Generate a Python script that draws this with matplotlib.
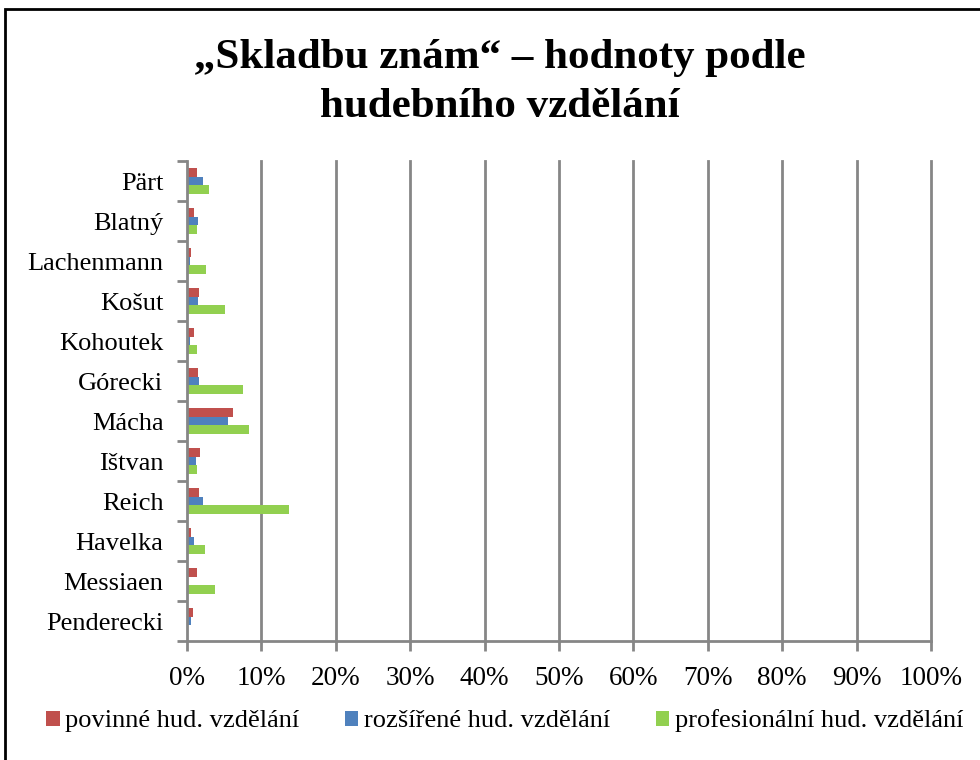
import matplotlib
matplotlib.use("Agg")
import matplotlib.pyplot as plt
from matplotlib.patches import Rectangle
import numpy as np

categories = ["Pärt", "Blatný", "Lachenmann", "Košut", "Kohoutek", "Górecki",
              "Mácha", "Ištvan", "Reich", "Havelka", "Messiaen", "Penderecki"]
povinne = [1.3, 0.9, 0.6, 1.6, 1.0, 1.5, 6.2, 1.8, 1.6, 0.5, 1.4, 0.75]
rozsirene = [2.2, 1.5, 0.35, 1.5, 0.35, 1.6, 5.5, 1.2, 2.2, 1.0, 0.2, 0.6]
profesionalni = [2.9, 1.4, 2.5, 5.1, 1.3, 7.5, 8.4, 1.3, 13.75, 2.4, 3.8, 0.0]
series_names = ["povinné hud. vzdělání", "rozšířené hud. vzdělání", "profesionální hud. vzdělání"]
colors = ["#C0504D", "#4F81BD", "#92D050"]
xticks = [0, 10, 20, 30, 40, 50, 60, 70, 80, 90, 100]

plt.rcParams['font.family'] = ['Liberation Serif', 'DejaVu Serif']

fig = plt.figure(figsize=(9.8, 7.6), dpi=100)
ax = fig.add_axes([187/980, (760-641)/760, (931-187)/980, 480/760])

n = len(categories)
y = np.arange(n)
h = 0.22
for i, (vals, c, name) in enumerate(zip([povinne, rozsirene, profesionalni], colors, series_names)):
    ax.barh(y + (i - 1) * h, vals, height=h, color=c, label=name, zorder=3)

ax.set_ylim(n - 0.5, -0.5)
ax.set_xlim(0, 100)
ax.set_yticks(y)
ax.set_yticklabels(categories, fontsize=19)
ax.set_yticks(np.arange(n + 1) - 0.5, minor=True)
ax.tick_params(axis='y', which='major', length=0, pad=17)
ax.tick_params(axis='y', which='minor', length=7, width=2, color='#868686')
ax.set_xticks(xticks)
ax.set_xticklabels([f"{t}%" for t in xticks], fontsize=19.5)
ax.tick_params(axis='x', length=7, width=2, color='#868686', pad=11)
ax.grid(False)
for t in xticks[1:]:
    ax.axvline(t, color='#868686', linewidth=2, zorder=0, clip_on=False)
for s in ['top', 'right']:
    ax.spines[s].set_visible(False)
for s in ['left', 'bottom']:
    ax.spines[s].set_color('#868686')
    ax.spines[s].set_linewidth(2)
    ax.spines[s].set_zorder(4)

fig.text(0.51, 1 - 58/760, "„Skladbu znám“ – hodnoty podle",
         ha='center', va='center', fontsize=31, fontweight='bold')
fig.text(0.51, 1 - 107/760, "hudebního vzdělání",
         ha='center', va='center', fontsize=31, fontweight='bold')

handles, labels = ax.get_legend_handles_labels()
fig.legend(handles, labels, loc='center', bbox_to_anchor=(0.515, 39/760), ncol=3,
           frameon=False, fontsize=19, handlelength=0.5, handleheight=0.5,
           handletextpad=0.2, columnspacing=1.75)

fig.patches.append(Rectangle((4.5/980, -0.1), 1.2, 1 - 9/760 + 0.1, transform=fig.transFigure,
                             fill=False, edgecolor='black', linewidth=2))

fig.savefig("out.png", dpi=100)
